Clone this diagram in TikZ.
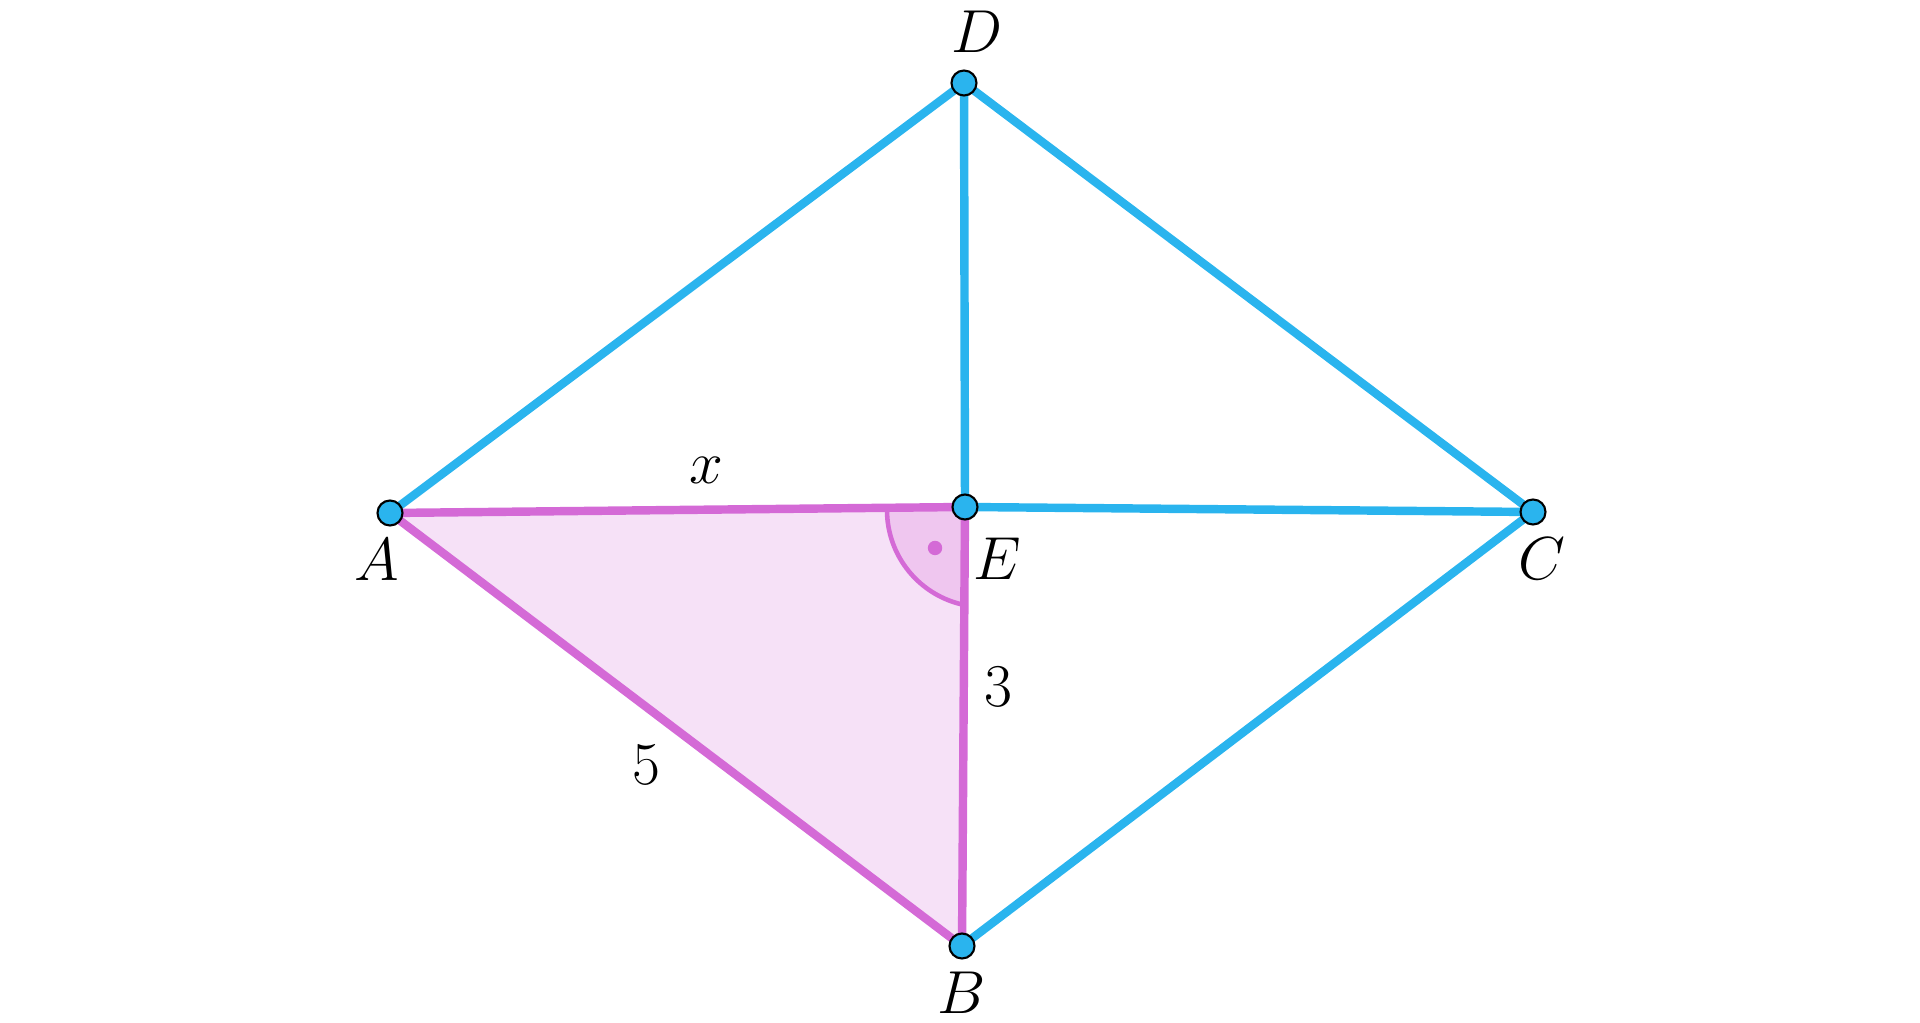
\documentclass[tikz,border=0pt]{standalone}
\definecolor{rhblue}{RGB}{42,180,238}
\definecolor{rhpink}{RGB}{212,106,214}
\begin{document}
\begin{tikzpicture}[every label/.style={font=\LARGE},
	pt/.style={circle,fill=rhblue,draw=black,line width=.6pt,inner sep=0pt,minimum size=.25cm},
	blueline/.style={rhblue,line width=2.4pt},
	pinkline/.style={rhpink,line width=2.4pt}]
	\useasboundingbox (0,0) rectangle (19.2,10.22);
	% the points
	\coordinate (A) at (3.90,5.09);
	\coordinate (E) at (9.65,5.15);
	\coordinate (D) at (9.64,9.39);
	\coordinate (C) at (15.33,5.10);
	\coordinate (B) at (9.62,0.76);
	% shaded triangle and the right angle
	\fill[rhpink!20] (A)--(E)--(B)--cycle;
	\fill[rhpink!38] (E)--++(-.78,-.03) arc[start angle=180,end angle=259,radius=.97]--cycle;
	\draw[rhpink,line width=1.3pt] (E) ++(-.78,-.03) arc[start angle=180,end angle=259,radius=.97];
	\fill[rhpink] (9.35,4.74) circle (.072);
	% sides
	\draw[blueline] (A)--(D)--(C)--(B);
	\draw[blueline] (D)--(E)--(C);
	\draw[pinkline] (A)--(E) node[pos=.55,above,yshift=1mm,text=black,font=\LARGE]{$x$};
	\draw[pinkline] (E)--(B) node[pos=.41,right,xshift=.5mm,text=black,font=\LARGE]{$3$};
	\draw[pinkline] (A)--(B) node[midway,below left,text=black,font=\LARGE]{$5$};
	\node[pt,label={[xshift=-1.3mm]below:$A$}] (nA) at (A) {};
	\node[pt,label={[xshift=-1.4mm,yshift=-.9mm]below right:$E$}] (nE) at (E) {};
	\node[pt,label={[xshift=1.3mm,label distance=1.4pt]above:$D$}] (nD) at (D) {};
	\node[pt,label={[xshift=.9mm]below:$C$}] (nC) at (C) {};
	\node[pt,label=below:$B$] (nB) at (B) {};
\end{tikzpicture}
\end{document}
